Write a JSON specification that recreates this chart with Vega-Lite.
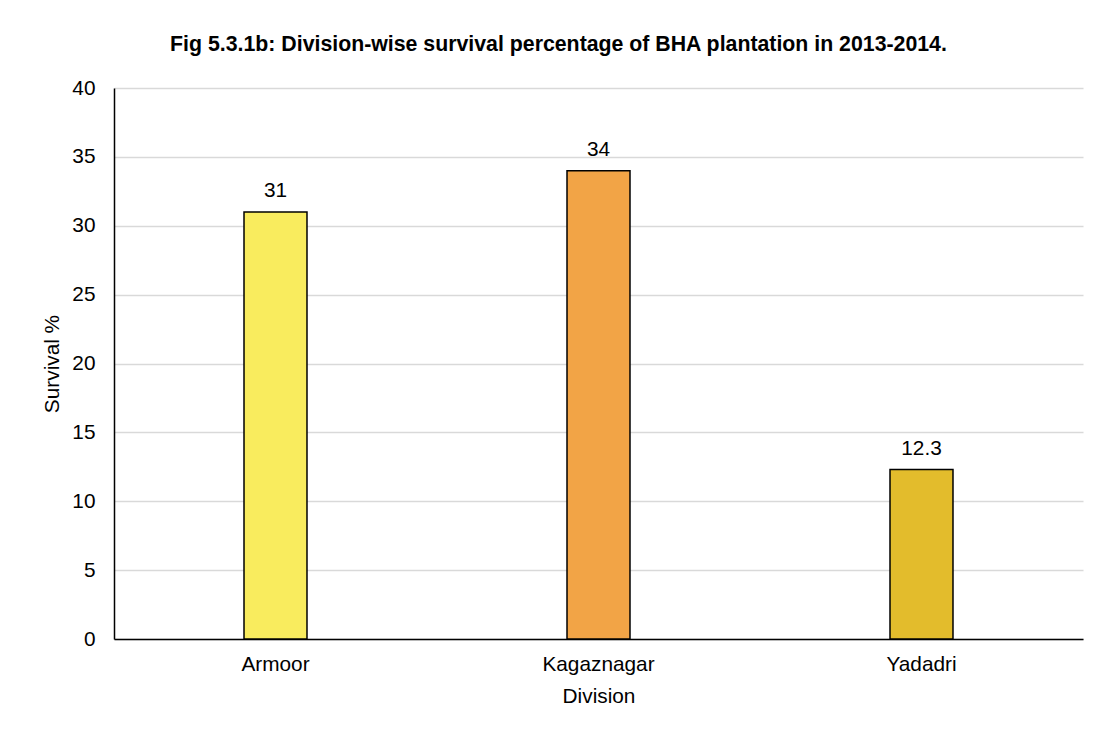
{
  "$schema": "https://vega.github.io/schema/vega-lite/v6.json",
  "autosize": "none",
  "width": 969,
  "height": 551,
  "padding": {"left": 114, "top": 88, "right": 23, "bottom": 95},
  "background": "white",
  "title": {
    "text": "Fig 5.3.1b: Division-wise survival percentage of BHA plantation in 2013-2014.",
    "font": "Liberation Sans",
    "fontSize": 21.3,
    "fontWeight": "bold",
    "color": "#000000",
    "anchor": "middle",
    "dx": -40,
    "offset": 22
  },
  "config": {
    "view": {"stroke": null},
    "font": "Liberation Sans"
  },
  "data": {
    "values": [
      {"Division": "Armoor", "Survival": 31, "Label": "31"},
      {"Division": "Kagaznagar", "Survival": 34, "Label": "34"},
      {"Division": "Yadadri", "Survival": 12.3, "Label": "12.3"}
    ]
  },
  "encoding": {
    "x": {
      "field": "Division",
      "type": "nominal",
      "sort": null,
      "scale": {"paddingInner": 0.805, "paddingOuter": 0.4025},
      "axis": {
        "title": "Division",
        "titleFont": "Liberation Sans",
        "titleFontSize": 20.8,
        "titleFontWeight": "normal",
        "titleColor": "#000000",
        "titlePadding": 13,
        "labelFont": "Liberation Sans",
        "labelFontSize": 20.8,
        "labelColor": "#000000",
        "labelAngle": 0,
        "labelPadding": 15,
        "ticks": false,
        "domainColor": "#000000",
        "domainWidth": 1.5,
        "grid": false
      }
    },
    "y": {
      "field": "Survival",
      "type": "quantitative",
      "scale": {"domain": [0, 40], "nice": false},
      "axis": {
        "title": "Survival %",
        "titleFont": "Liberation Sans",
        "titleFontSize": 20.8,
        "titleFontWeight": "normal",
        "titleColor": "#000000",
        "titlePadding": 9,
        "labelFont": "Liberation Sans",
        "labelFontSize": 20.8,
        "labelColor": "#000000",
        "labelPadding": 19,
        "values": [0, 5, 10, 15, 20, 25, 30, 35, 40],
        "ticks": false,
        "domainColor": "#000000",
        "domainWidth": 1.5,
        "grid": true,
        "gridColor": "#d9d9d9",
        "gridWidth": 1.3
      }
    }
  },
  "layer": [
    {
      "mark": {"type": "bar", "stroke": "#000000", "strokeWidth": 1.5},
      "encoding": {
        "color": {
          "field": "Division",
          "type": "nominal",
          "scale": {"domain": ["Armoor", "Kagaznagar", "Yadadri"], "range": ["#F9EC5E", "#F2A446", "#E3BC2C"]},
          "legend": null
        }
      }
    },
    {
      "mark": {"type": "text", "baseline": "alphabetic", "dy": -15, "fontSize": 20.8, "color": "#000000", "font": "Liberation Sans"},
      "encoding": {"text": {"field": "Label"}}
    }
  ]
}
